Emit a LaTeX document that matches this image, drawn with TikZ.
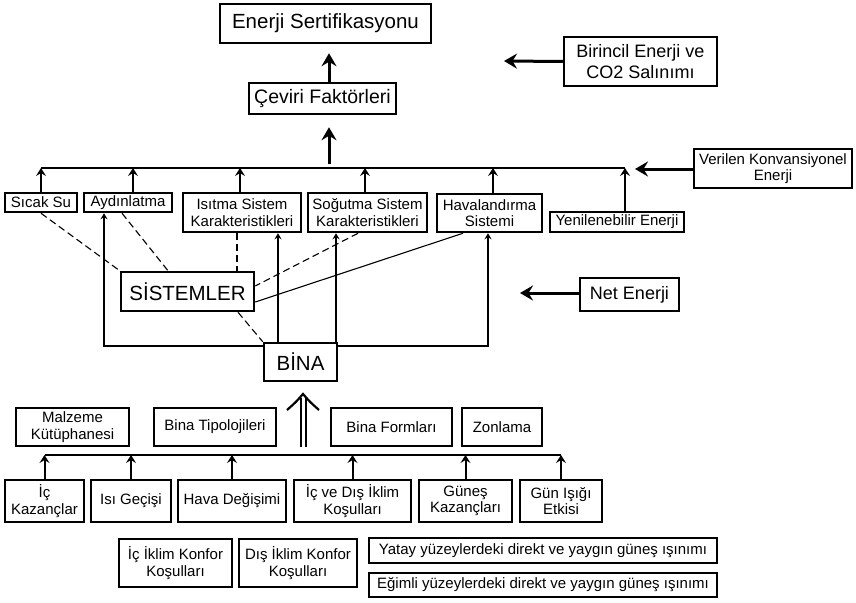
\documentclass[tikz,border=0pt]{standalone}
\usepackage{fontspec}
\setmainfont{Liberation Sans}
\usetikzlibrary{arrows.meta}
\usetikzlibrary{positioning}

\begin{document}
\begin{tikzpicture}[x=1pt,y=-1pt,
  kutu/.style={draw, line width=2.5pt, align=center, inner sep=0pt,
    font=\fontsize{15}{16.5}\selectfont},
  buyuk/.style={kutu, font=\fontsize{20.5}{22}\selectfont},
  orta/.style={kutu, font=\fontsize{18}{21}\selectfont},
  ok/.style={line width=3pt, -{Stealth[length=13pt,width=15pt,inset=4.5pt]}},
  kucukok/.style={line width=2pt, -{Stealth[length=8pt,width=10pt,inset=3pt]}},
  ince/.style={line width=1.5pt, -{Stealth[length=6pt,width=7pt,inset=2pt]}},
  hat/.style={line width=1.5pt},
  kesik/.style={line width=1.1pt, dash pattern=on 7pt off 4pt},
  bos/.style={line width=2pt, double, double distance=3pt}]
  \useasboundingbox (0,0) rectangle (856,602);

  % ust kisim
  \node[buyuk, minimum width=211pt, minimum height=39pt] (EnerjiSert) at
  (325.5,23.5) {Enerji Sertifikasyonu};
  \node[kutu, font=\fontsize{19.5}{21}\selectfont, minimum width=147pt,
  minimum height=31pt] (Ceviri) at (322.5,98.5) {Çeviri Faktörleri};
  \node[orta, minimum width=153pt, minimum height=49pt] (Birincil) at
  (640.5,61.5) {Birincil Enerji ve\\ CO2 Salınımı};
  \node[kutu, minimum width=158pt, minimum height=39pt] (Verilen) at
  (773,168.5) {Verilen Konvansiyonel\\ Enerji};

  % sistem satiri
  \node[kutu, minimum width=72pt, minimum height=19pt] (SicakSu) at
  (41,202.5) {Sıcak Su};
  \node[kutu, minimum width=88pt, minimum height=19pt] (Aydinlatma) at
  (128,202.5) {Aydınlatma};
  \node[kutu, minimum width=118pt, minimum height=39pt] (Isitma) at
  (242,212.5) {Isıtma Sistem\\ Karakteristikleri};
  \node[kutu, minimum width=119pt, minimum height=39pt] (Sogutma) at
  (367.5,212.5) {Soğutma Sistem\\ Karakteristikleri};
  \node[kutu, minimum width=105pt, minimum height=38pt] (Havalandirma) at
  (489.5,213) {Havalandırma\\ Sistemi};
  \node[kutu, minimum width=134pt, minimum height=20pt] (Yenilenebilir) at
  (617,222) {Yenilenebilir Enerji};

  \node[buyuk, minimum width=133pt, minimum height=39pt] (Sistemler) at
  (187.5,291.5) {SİSTEMLER};
  \node[buyuk, minimum width=73pt, minimum height=38pt] (Bina) at
  (300.5,362) {BİNA};
  \node[orta, minimum width=99pt, minimum height=33pt] (NetEnerji) at
  (629.5,294.5) {Net Enerji};

  % bina girdileri
  \node[kutu, minimum width=113pt, minimum height=38pt] (Malzeme) at
  (72.5,427) {Malzeme\\ Kütüphanesi};
  \node[kutu, minimum width=122pt, minimum height=38pt] (BinaTip) at
  (215,427) {Bina Tipolojileri};
  \node[kutu, minimum width=121pt, minimum height=38pt] (BinaForm) at
  (391.5,427) {Bina Formları};
  \node[kutu, minimum width=80pt, minimum height=38pt] (Zonlama) at
  (502,427) {Zonlama};

  \node[kutu, minimum width=79pt, minimum height=42pt] (IcKazanc) at
  (44.5,501) {İç\\ Kazançlar};
  \node[kutu, minimum width=80pt, minimum height=42pt] (IsiGecisi) at
  (131,501) {Isı Geçişi};
  \node[kutu, minimum width=108pt, minimum height=42pt] (HavaDegisimi) at
  (232,501) {Hava Değişimi};
  \node[kutu, minimum width=117pt, minimum height=42pt] (IcDisIklim) at
  (352.5,501) {İç ve Dış İklim\\ Koşulları};
  \node[kutu, minimum width=93pt, minimum height=42pt] (GunesKazanc) at
  (465.5,501) {Güneş\\ Kazançları};
  \node[kutu, minimum width=82pt, minimum height=42pt] (GunIsigi) at
  (561,501) {Gün Işığı\\ Etkisi};

  \node[kutu, minimum width=113pt, minimum height=48pt] (IcKonfor) at
  (175.5,563) {İç İklim Konfor\\ Koşulları};
  \node[kutu, minimum width=118pt, minimum height=48pt] (DisKonfor) at
  (298,563) {Dış İklim Konfor\\ Koşulları};
  \node[kutu, minimum width=348pt, minimum height=25pt] (Yatay) at
  (543,550.5) {Yatay yüzeylerdeki direkt ve yaygın güneş ışınımı};
  \node[kutu, minimum width=348pt, minimum height=24pt] (Egimli) at
  (543,585) {Eğimli yüzeylerdeki direkt ve yaygın güneş ışınımı};

  % baglantilar
  \coordinate (UstHat) at (0,168);
  \coordinate (AltHat) at (0,455);
  \coordinate (Toplam) at (329,164);
  \coordinate (BirUc) at (504,61);
  \coordinate (VerUc) at (635,169);
  \coordinate (NetUc) at (520,293);
  \coordinate (Kaynak) at (303,447);
  \coordinate (BosUc) at (303,394);

  \draw[ok] ([xshift=6.5pt]Ceviri.north) -- ([xshift=3.5pt,yshift=-9pt]EnerjiSert.south);
  \draw[ok] (Toplam) -- ([xshift=6.5pt,yshift=-12pt]Ceviri.south);
  \draw[ok] (Birincil.west) -- (BirUc);
  \draw[ok] (Verilen.west |- VerUc) -- (VerUc);
  \draw[ok] (NetEnerji.west |- NetUc) -- (NetUc);

  \draw[hat] (SicakSu.north |- UstHat) -- ([xshift=8pt]Yenilenebilir.north |- UstHat);
  \draw[kucukok] (SicakSu.north) -- (SicakSu.north |- UstHat);
  \draw[kucukok] ([xshift=5pt]Aydinlatma.north) -- ([xshift=5pt]Aydinlatma.north |- UstHat);
  \draw[kucukok] ([xshift=-2pt]Isitma.north) -- ([xshift=-2pt]Isitma.north |- UstHat);
  \draw[kucukok] ([xshift=-2.5pt]Sogutma.north) -- ([xshift=-2.5pt]Sogutma.north |- UstHat);
  \draw[kucukok] ([xshift=3.5pt]Havalandirma.north) -- ([xshift=3.5pt]Havalandirma.north |- UstHat);
  \draw[kucukok] ([xshift=8pt]Yenilenebilir.north) -- ([xshift=8pt]Yenilenebilir.north |- UstHat);

  \draw[ince] ([yshift=-4pt]Bina.north west) -| ([xshift=-24pt]Aydinlatma.south);
  \draw[ince] ([yshift=-4pt]Bina.north east) -| ([xshift=-1.5pt]Havalandirma.south);
  \draw[ince] ([xshift=-22.5pt]Bina.north) -- ([xshift=36pt]Isitma.south);
  \draw[ince] ([xshift=35.5pt]Bina.north) -- ([xshift=-31.5pt]Sogutma.south);

  \draw[kesik] (SicakSu.south) -- (Sistemler.north west);
  \draw[kesik] ([xshift=-6pt]Aydinlatma.south) -- ([xshift=-19.5pt]Sistemler.north);
  \draw[kesik] ([xshift=-5pt]Isitma.south) -- ([xshift=-5pt]Isitma.south |- Sistemler.north);
  \draw[kesik] ([xshift=-9.5pt]Sogutma.south) -- ([yshift=5.5pt]Sistemler.east);
  \draw[line width=1.1pt] ([xshift=-26.5pt]Havalandirma.south) -- ([yshift=-10.5pt]Sistemler.east);
  \draw[kesik] ([xshift=50.5pt]Sistemler.south) -- (Bina.north west);

  \draw[hat] (IcKazanc.north |- AltHat) -- (GunIsigi.north |- AltHat);
  \foreach \kutu in {IcKazanc,IsiGecisi,HavaDegisimi,IcDisIklim,GunesKazanc,GunIsigi}
    \draw[kucukok] (\kutu.north) -- (\kutu.north |- AltHat);
  % bos ok
  \draw[bos] (Kaynak) -- ([yshift=-4pt]BosUc);
  \draw[line width=2.2pt, line join=miter]
    ([shift={(-16,16)}]BosUc) .. controls ([shift={(-7,8)}]BosUc) .. (BosUc)
    .. controls ([shift={(7,8)}]BosUc) .. ([shift={(16,16)}]BosUc);
\end{tikzpicture}
\end{document}
